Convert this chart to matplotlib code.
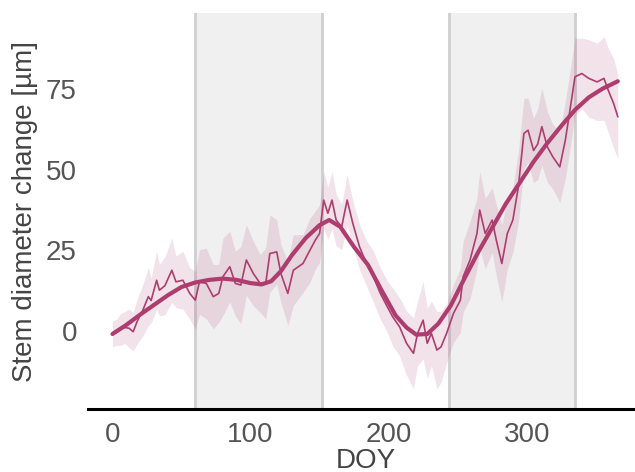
import numpy as np
import matplotlib
matplotlib.use("Agg")
import matplotlib.pyplot as plt

plt.rcParams['font.family'] = ['Liberation Sans', 'DejaVu Sans']

# daily stem diameter change (mean of trees) and its spread
doy = [0, 3, 6, 9, 12, 15,
       18, 22, 26, 28, 32, 34, 38, 43, 46, 51, 56,
       60, 63, 68, 73, 77, 80, 85, 89, 93, 97, 102, 107, 111, 114, 119, 122, 127, 131, 138, 143, 147, 150,
       153, 156, 159, 162, 166, 170, 174, 179,
       184, 189, 194, 199, 203, 208, 213, 218, 221, 225, 228, 231, 235, 238, 242,
       247, 252, 254, 259, 264, 266, 270, 275, 278, 282, 286, 290, 294, 298, 301, 305, 308, 311, 315, 319, 324, 328, 331,
       335, 340, 345, 351, 356, 359, 363, 366]
mean = [-1, -0.5, 0.5, 1, 0.8, -0.3,
        3, 6.4, 10.6, 9.4, 15.7, 12.6, 14, 18.8, 15.2, 15.7, 11.6,
        9.5, 15.2, 14.7, 10.6, 11.6, 16.8, 19.9, 14.7, 14.2, 22, 17.8, 14.7, 14.7, 24, 24.5, 17.8, 11.6, 18.8, 20.9, 25, 28.2, 30.2,
        40.6, 36.5, 40.6, 34.4, 32.3, 40.6, 33.5, 26,
        20.9, 16.8, 11.6, 7.5, 4.3, 1.2, -3.9, -7, -0.8, 3.3, -3.9, -0.8, -6, -5, -0.8,
        5.4, 9.5, 16.8, 22, 30.2, 37.5, 30.2, 34.4, 28.2, 20.9, 30.2, 34.4, 44.7, 61.3, 62.3, 56, 58, 63.4, 57.1, 54, 50.9, 59.2, 67.5,
        78.9, 79.9, 78.4, 77.3, 78.4, 74.8, 70.6, 66.5]
spread = [4, 4, 5, 5, 6, 6,
          7, 8, 9, 7, 9, 8, 9, 10, 8, 9, 8,
          9, 10, 11, 10, 9, 12, 11, 10, 12, 11, 10, 9, 11, 12, 10, 9, 10, 11, 9, 10, 9, 9,
          9, 8, 9, 8, 7, 8, 7, 7,
          7, 8, 8, 8, 9, 9, 10, 11, 10, 12, 11, 10, 12, 11, 9,
          9, 10, 11, 12, 11, 12, 11, 10, 11, 12, 11, 10, 11, 11, 10, 10, 11, 12, 11, 10, 11, 12, 12,
          12, 11, 12, 12, 13, 13, 14, 13]

# smoothed seasonal fit
doy_fit = [0, 10, 20, 30, 40, 50, 60, 70, 80, 90, 100, 108, 115, 122, 130, 140, 150, 157,
           165, 175, 185, 195, 205, 213, 220, 228, 236, 245, 255, 265, 275, 285, 295,
           305, 315, 325, 335, 345, 355, 366]
fit = [-1, 1.8, 5, 8, 11, 13.6, 15, 15.8, 16.2, 15.8, 14.8, 14.4, 15.4, 18.5, 23.5, 28.8, 32.8, 34.4,
       32.3, 26, 20.5, 12.5, 4.8, 1, -1.2, -1, 2.2, 7.8, 16.3, 24.5, 32, 39.5, 46,
       52.5, 58.3, 63.6, 68.6, 72.5, 75.2, 77.5]

seasons = [(60, 152), (244, 335)]

col = '#ae3d6f'
fig = plt.figure(figsize=(6.35, 4.72), dpi=100)
ax = fig.add_axes([0.1386, 0.1328, 0.8756, 0.8396])

for a, b in seasons:
    ax.axvspan(a, b, color='#f0f0f0', zorder=0, lw=0)
    ax.axvline(a, color='#cfcfcf', lw=2, zorder=1)
    ax.axvline(b, color='#cfcfcf', lw=2, zorder=1)

m = np.array(mean)
s = np.array(spread)
ax.fill_between(doy, m - s, m + s, color=col, alpha=0.15, lw=0, zorder=2)
ax.plot(doy, mean, color=col, lw=1.2, zorder=3)
ax.plot(doy_fit, fit, color=col, lw=3, zorder=4, solid_capstyle='round')

ax.set_xlim(-17.7, 385)
ax.set_ylim(-24.4, 98.7)
ax.set_xticks([0, 100, 200, 300])
ax.set_yticks([0, 25, 50, 75])
ax.tick_params(axis='both', length=0, labelsize=20, labelcolor='#555555')
ax.tick_params(axis='x', pad=9)
ax.tick_params(axis='y', pad=8)
for sp in ['left', 'right', 'top']:
    ax.spines[sp].set_visible(False)
ax.spines['bottom'].set_color('black')
ax.spines['bottom'].set_linewidth(2.2)
ax.set_xlabel('DOY', fontsize=20, color='#444444', labelpad=0)
ax.set_ylabel('Stem diameter change [µm]', fontsize=20, color='#444444', labelpad=6)

fig.savefig('out.png', dpi=100)
